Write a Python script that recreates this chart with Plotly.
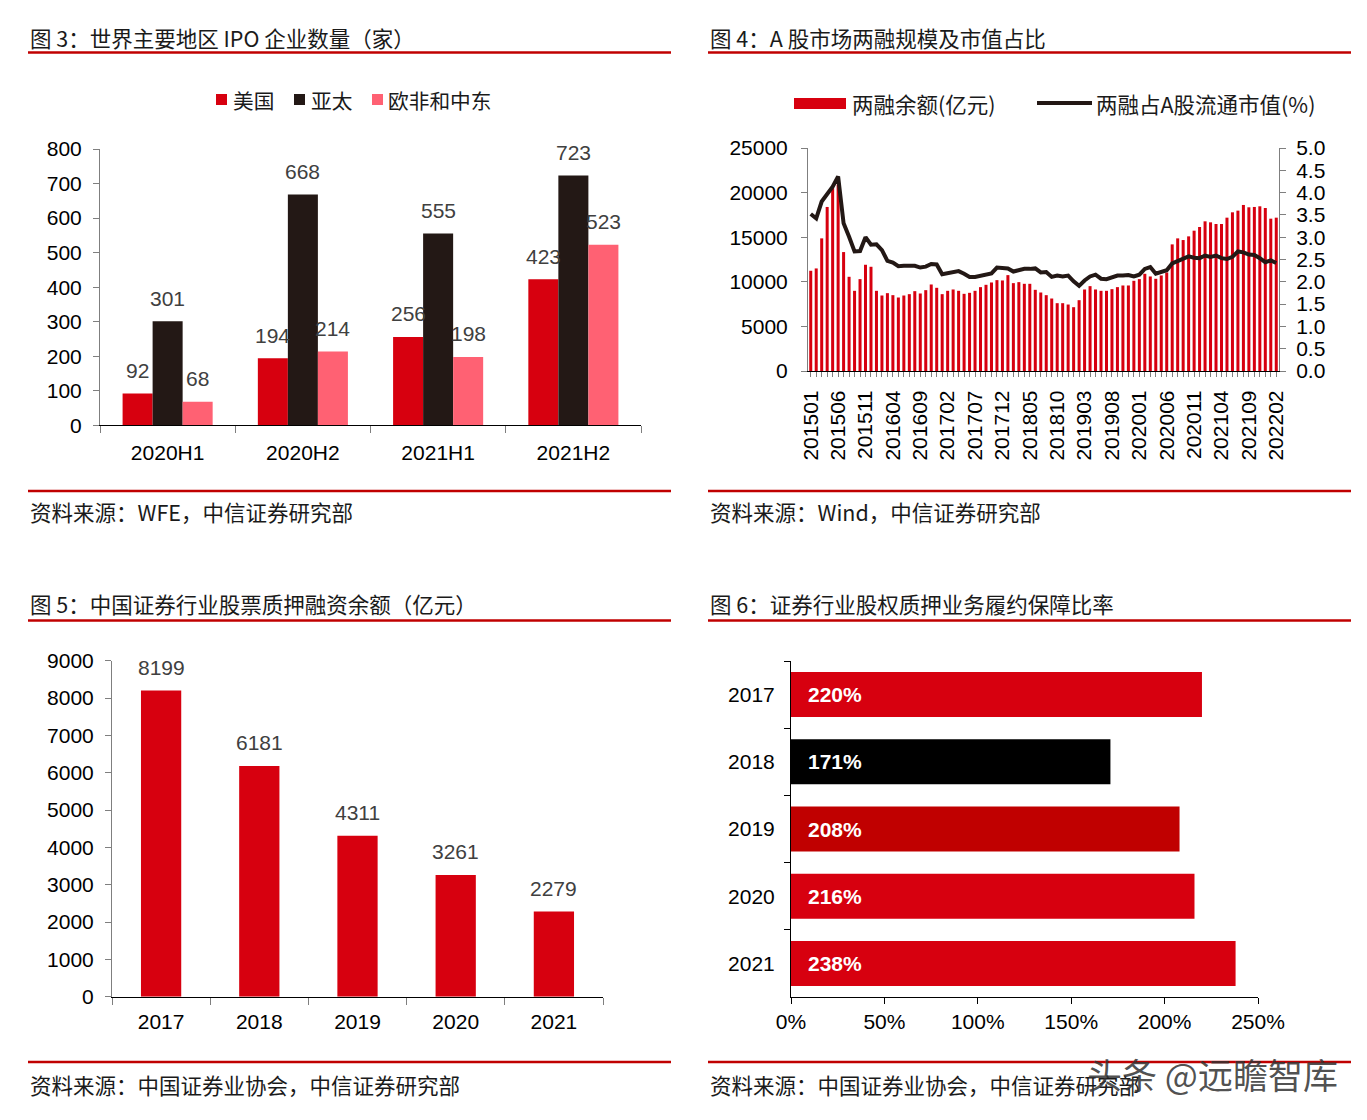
import plotly.graph_objects as go

W, H = 1367, 1120
OFF = 8  # page offset of the figure inside the browser window
RED = "#d7000f"
BLACK = "#231815"
PINK = "#ff6173"
DRED = "#c00000"
LINE_RED = "#c00000"
NUM_FONT = "Liberation Sans, Arial, Noto Sans CJK SC, sans-serif"
CJK_FONT = "Noto Sans CJK SC, Liberation Sans, sans-serif"

# ---------------- data ----------------
ipo_periods = ["2020H1", "2020H2", "2021H1", "2021H2"]
ipo_us = [92, 194, 256, 423]
ipo_asia_pacific = [301, 668, 555, 723]
ipo_emea = [68, 214, 198, 523]

months = [f"{y}{m:02d}" for y in range(2015, 2023) for m in range(1, 13)][:86]
margin_balance = [
    11236, 11498, 14869, 18390, 20500, 20900, 13333, 10562, 8989, 10300,
    11910, 11685, 8989, 8464, 8727, 8502, 8240, 8464, 8614, 8951,
    8689, 9064, 9700, 9326, 8614, 8989, 9139, 8989, 8651, 8764,
    8989, 9401, 9663, 9925, 10187, 10150, 10749, 9850, 9963, 9775,
    9775, 9101, 8801, 8502, 8127, 7603, 7603, 7453, 7154, 7940,
    9139, 9513, 9139, 8989, 8989, 9176, 9401, 9588, 9588, 10112,
    10300, 10899, 10599, 10337, 10712, 11049, 14195, 14869, 14682, 15094,
    15730, 16142, 16779, 16667, 16479, 16479, 17191, 17790, 17978, 18614,
    18352, 18390, 18464, 18277, 17079, 17191,
]
margin_ratio = [
    3.52, 3.42, 3.80, 3.95, 4.13, 4.36, 3.31, 3.01, 2.68, 2.69,
    3.00, 2.83, 2.84, 2.71, 2.47, 2.43, 2.35, 2.36, 2.37, 2.36,
    2.32, 2.34, 2.40, 2.39, 2.17, 2.20, 2.23, 2.24, 2.18, 2.11,
    2.11, 2.14, 2.17, 2.19, 2.32, 2.30, 2.30, 2.23, 2.27, 2.29,
    2.29, 2.30, 2.21, 2.22, 2.11, 2.14, 2.12, 2.14, 2.01, 1.91,
    2.03, 2.12, 2.16, 2.07, 2.06, 2.11, 2.14, 2.14, 2.15, 2.12,
    2.16, 2.29, 2.33, 2.18, 2.23, 2.26, 2.41, 2.46, 2.53, 2.57,
    2.54, 2.53, 2.59, 2.56, 2.59, 2.53, 2.51, 2.56, 2.68, 2.66,
    2.61, 2.60, 2.53, 2.44, 2.48, 2.42,
]
month_labels = [m if i % 5 == 0 else "" for i, m in enumerate(months)]

pledge_years = ["2017", "2018", "2019", "2020", "2021"]
pledge_balance = [8199, 6181, 4311, 3261, 2279]

cover_years = ["2017", "2018", "2019", "2020", "2021"]
cover_ratio = [2.20, 1.71, 2.08, 2.16, 2.38]
cover_labels = ["220%", "171%", "208%", "216%", "238%"]
cover_colors = [RED, "#000000", DRED, RED, RED]


def px(x):
    return (x - OFF) / W


def py(y):
    return 1 - (y - OFF) / H


fig = go.Figure()

# ---------------- chart 3 ----------------
bw3 = 0.222
for vals, col, off in [(ipo_us, RED, -1.5 * bw3), (ipo_asia_pacific, BLACK, -0.5 * bw3), (ipo_emea, PINK, 0.5 * bw3)]:
    fig.add_trace(go.Bar(x=ipo_periods, y=vals, marker=dict(color=col, line=dict(width=0)),
                         width=bw3, offset=off, xaxis="x", yaxis="y", showlegend=False))

# ---------------- chart 4 ----------------
fig.add_trace(go.Bar(x=months, y=margin_balance, marker=dict(color=RED, line=dict(width=0)),
                     width=0.55, xaxis="x2", yaxis="y2", showlegend=False))
fig.add_trace(go.Scatter(x=months, y=margin_ratio, mode="lines", line=dict(color=BLACK, width=4),
                         xaxis="x2", yaxis="y3", showlegend=False))

# ---------------- chart 5 ----------------
fig.add_trace(go.Bar(x=pledge_years, y=pledge_balance, marker=dict(color=RED, line=dict(width=0)),
                     width=0.41, xaxis="x3", yaxis="y4", showlegend=False))

# ---------------- chart 6 ----------------
fig.add_trace(go.Bar(y=cover_years, x=cover_ratio, orientation="h",
                     marker=dict(color=cover_colors, line=dict(width=0)),
                     width=0.67, xaxis="x4", yaxis="y5", showlegend=False))

tickfont = dict(family=NUM_FONT, size=21, color="#000000")
AX_GREY = "#7f7f7f"

fig.update_layout(
    width=W, height=H,
    margin=dict(l=0, r=0, t=0, b=0, pad=0),
    paper_bgcolor="white", plot_bgcolor="white",
    barmode="group",
    font=dict(family=CJK_FONT, size=20, color="#000000"),
    xaxis=dict(domain=[px(100), px(641)], anchor="y", type="category", tickson="boundaries",
               range=[-0.5, len(ipo_periods) - 0.5], automargin=False, ticklabelstandoff=8,
               ticks="outside", ticklen=7, tickcolor=AX_GREY, showline=True, linecolor="#000000",
               linewidth=1.2, showgrid=False, tickfont=tickfont),
    yaxis=dict(domain=[py(425.3), py(149)], anchor="x", range=[0, 800], dtick=100, showgrid=False,
               automargin=False, tickformat="d",
               zeroline=False, showline=True, linecolor=AX_GREY, ticks="outside", ticklen=6,
               tickcolor=AX_GREY, tickfont=tickfont, ticklabelstandoff=7),
    xaxis2=dict(domain=[px(808), px(1279)], anchor="y2", type="category", range=[-0.5, 85.5],
                automargin=False, ticklabelstandoff=5,
                tickmode="array", tickvals=months, ticktext=month_labels, tickangle=-90,
                ticks="outside", ticklen=5, tickcolor=AX_GREY, showline=True, linecolor="#000000",
                linewidth=1.2, showgrid=False, tickfont=tickfont),
    yaxis2=dict(domain=[py(371), py(148)], anchor="x2", range=[0, 25000], dtick=5000, showgrid=False,
                automargin=False, tickformat="d",
                zeroline=False, showline=True, linecolor=AX_GREY, ticks="outside", ticklen=6,
                tickcolor=AX_GREY, tickfont=tickfont, ticklabelstandoff=9),
    yaxis3=dict(domain=[py(371), py(148)], anchor="x2", overlaying="y2", side="right", range=[0, 5],
                automargin=False,
                dtick=0.5, tickformat=".1f", showgrid=False, zeroline=False, showline=True,
                linecolor=AX_GREY, ticks="outside", ticklen=6, tickcolor=AX_GREY, tickfont=tickfont,
                ticklabelstandoff=6),
    xaxis3=dict(domain=[px(112), px(603)], anchor="y4", type="category", tickson="boundaries",
                range=[-0.5, len(pledge_years) - 0.5], automargin=False, ticklabelstandoff=6,
                ticks="outside", ticklen=7, tickcolor=AX_GREY, showline=True, linecolor="#000000",
                linewidth=1.2, showgrid=False, tickfont=tickfont),
    yaxis4=dict(domain=[py(996.7), py(660.7)], anchor="x3", range=[0, 9000], dtick=1000, showgrid=False,
                automargin=False, tickformat="d",
                zeroline=False, showline=True, linecolor=AX_GREY, ticks="outside", ticklen=6,
                tickcolor=AX_GREY, tickfont=tickfont, ticklabelstandoff=7),
    xaxis4=dict(domain=[px(791), px(1258)], anchor="y5", range=[0, 2.5], dtick=0.5, tickformat=".0%",
                automargin=False,
                ticks="outside", ticklen=6, tickcolor="#000000", showline=True, linecolor="#000000",
                linewidth=1.2, showgrid=False, zeroline=False, tickfont=tickfont),
    yaxis5=dict(domain=[py(997), py(661)], anchor="x4", type="category",
                range=[len(cover_years) - 0.5, -0.5], automargin=False,
                tickson="boundaries", ticks="outside", ticklen=6, tickcolor="#000000", showline=True,
                linecolor="#000000", showgrid=False, tickfont=tickfont, ticklabelstandoff=11),
)

ann = []
shapes = []

# value labels chart 3 (category index positions on the category axis)
LBL = dict(family=NUM_FONT, size=21, color="#404040")
for vals, shift in [(ipo_us, -30), (ipo_asia_pacific, 0), (ipo_emea, 30)]:
    for i, v in enumerate(vals):
        ann.append(dict(x=i, y=v, xref="x", yref="y", text=str(v), showarrow=False,
                        xshift=shift, yshift=23, yanchor="middle", font=LBL))
# value labels chart 5
for i, v in enumerate(pledge_balance):
    ann.append(dict(x=i, y=v, xref="x3", yref="y4", text=str(v), showarrow=False,
                    yshift=23, yanchor="middle", font=LBL))
# labels chart 6
for i, t in enumerate(cover_labels):
    ann.append(dict(x=0, y=i, xref="x4", yref="y5", text=f"<b>{t}</b>", showarrow=False,
                    xanchor="left", xshift=15, yanchor="middle",
                    font=dict(family=NUM_FONT, size=21, color="#ffffff")))


def text(x, y, s, size=21.5, color="#1a1a1a", anchor="left"):
    ann.append(dict(x=px(x), y=py(y), xref="paper", yref="paper", text=s, showarrow=False,
                    xanchor=anchor, yanchor="middle",
                    font=dict(family=CJK_FONT, size=size, color=color)))


def hline(x0, x1, y, color=LINE_RED, width=2.5):
    shapes.append(dict(type="line", xref="paper", yref="paper", x0=px(x0), x1=px(x1),
                       y0=py(y), y1=py(y), line=dict(color=color, width=width)))


def rect(x0, x1, y0, y1, color):
    shapes.append(dict(type="rect", xref="paper", yref="paper", x0=px(x0), x1=px(x1),
                       y0=py(y1), y1=py(y0), fillcolor=color, line=dict(width=0)))


# titles and rules
text(28, 37, "图 3：世界主要地区 IPO 企业数量（家）")
text(708, 37, "图 4：A 股市场两融规模及市值占比")
text(28, 603, "图 5：中国证券行业股票质押融资余额（亿元）")
text(708, 603, "图 6：证券行业股权质押业务履约保障比率")
for xa, xb in [(28, 671), (708, 1351)]:
    hline(xa, xb, 52.5)
    hline(xa, xb, 491)
    hline(xa, xb, 620.5)
    hline(xa, xb, 1062)
text(28, 512, "资料来源：WFE，中信证券研究部")
text(708, 512, "资料来源：Wind，中信证券研究部")
text(28, 1084, "资料来源：中国证券业协会，中信证券研究部")
text(708, 1084, "资料来源：中国证券业协会，中信证券研究部")

# legend chart 3
rect(216, 227, 94, 105, RED)
text(231, 100, "美国", size=20.7)
rect(294, 305, 94, 105, BLACK)
text(309, 100, "亚太", size=20.7)
rect(372, 383, 94, 105, PINK)
text(386, 100, "欧非和中东", size=20.7)

# legend chart 4
rect(794, 846, 98, 109, RED)
text(850, 103, "两融余额(亿元)")
shapes.append(dict(type="line", xref="paper", yref="paper", x0=px(1037), x1=px(1092),
                   y0=py(103), y1=py(103), line=dict(color=BLACK, width=4)))
text(1094, 103, "两融占A股流通市值(%)")

# watermark
text(1085, 1073, "头条 @远瞻智库", size=35, color="rgba(50,50,50,0.85)")

fig.update_layout(annotations=ann, shapes=shapes)
fig.write_html("out.html")
